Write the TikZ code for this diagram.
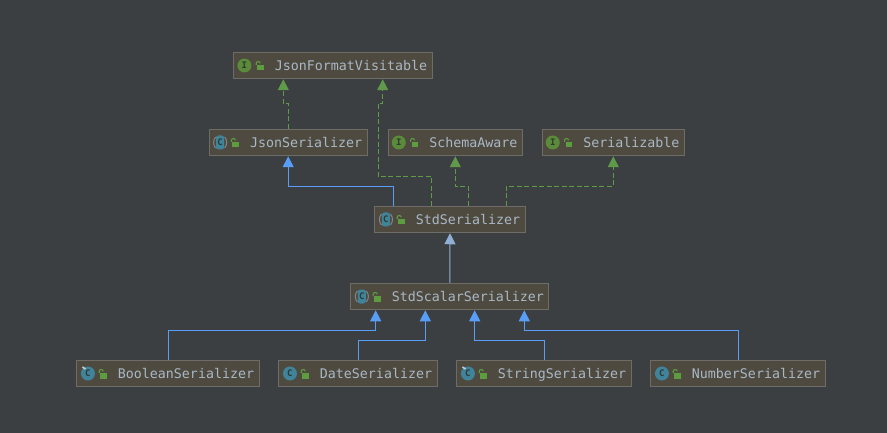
\documentclass[tikz,border=0pt]{standalone}
\usepackage{fontspec}
\setmonofont{DejaVu Sans Mono}
\usetikzlibrary{arrows.meta}
\definecolor{bgdark}{HTML}{3C3F41}
\definecolor{boxfill}{HTML}{4E4A3F}
\definecolor{boxline}{HTML}{6E6C66}
\definecolor{boxtext}{HTML}{A9B7C6}
\definecolor{implgreen}{HTML}{5F9A4A}
\definecolor{lockgreen}{HTML}{5E9C40}
\definecolor{extblue}{HTML}{589DF6}
\definecolor{classteal}{HTML}{40849C}
\definecolor{ifacegreen}{HTML}{5B8A3A}
\definecolor{iconink}{HTML}{2F3A33}
\tikzset{
  x=1pt,y=-1pt,
  umlbox/.style={draw=boxline,fill=boxfill,line width=1pt,text=boxtext,inner xsep=5pt,inner ysep=0pt,
    minimum height=26.5pt,text height=11pt,text depth=1pt,
    font=\ttfamily\fontsize{13.3}{15}\selectfont,execute at begin node={\hspace*{36pt}}},
  extendsline/.style={draw=extblue,line width=1pt,-{Triangle[width=11pt,length=11pt]}},
  implline/.style={draw=implgreen,line width=1pt,dash pattern=on 5pt off 2.5pt,-{Triangle[width=11pt,length=11pt,fill=implgreen]}},
  iconletter/.style={text=iconink,inner sep=0pt,font=\ttfamily\bfseries\fontsize{9}{9}\selectfont},
  lockmark/.pic={
    \fill[lockgreen] (23.8,-0.2) rectangle (30.3,5);
    \draw[lockgreen,line width=1.1pt] (22.8,-0.5) -- (22.8,-2.2) arc[start angle=180,end angle=0,x radius=2,y radius=-1.8];
  },
  ifacemark/.pic={
    \fill[ifacegreen] (11,0) circle[radius=7];
    \node[iconletter] at (11,0) {I};
  },
  classmark/.pic={
    \fill[classteal] (11.5,0) circle[radius=7];
    \node[iconletter] at (11.5,0) {C};
  },
  staticmark/.pic={
    \fill[classteal] (11.5,0) circle[radius=7];
    \node[iconletter] at (11.5,0) {C};
    \draw[boxtext!70!white,line width=1.6pt] (6,-6.5) -- (9,-4.5);
  },
  abstractmark/.pic={
    \draw[boxtext!60!bgdark,line width=1pt] (7.5,-5.5) arc[start angle=130,end angle=230,radius=-7.2];
    \draw[boxtext!60!bgdark,line width=1pt] (7,-5.5) to[bend right=40] (7,5.5);
    \draw[boxtext!60!bgdark,line width=1pt] (16,-5.5) to[bend left=40] (16,5.5);
    \fill[classteal,rounded corners=2.5pt] (7.5,-7) rectangle (15.5,7);
    \node[iconletter] at (11.5,0) {C};
  }
}
\begin{document}
\begin{tikzpicture}
  \fill[bgdark] (0,0) rectangle (887,433);
  \useasboundingbox (0,0) rectangle (887,433);
  \node[umlbox] (jsonVisitable) at (333,65.5) {JsonFormatVisitable};
  \node[umlbox] (jsonSer) at (288.2,142.5) {JsonSerializer};
  \node[umlbox] (schemaAware) at (455.3,142.5) {SchemaAware};
  \node[umlbox] (serializable) at (613.3,142.5) {Serializable};
  \node[umlbox] (stdSer) at (450,219.5) {StdSerializer};
  \node[umlbox] (stdScalar) at (449.9,296.5) {StdScalarSerializer};
  \node[umlbox] (boolSer) at (168,373.5) {BooleanSerializer};
  \node[umlbox] (dateSer) at (358,373.5) {DateSerializer};
  \node[umlbox] (stringSer) at (544,373.5) {StringSerializer};
  \node[umlbox] (numberSer) at (738,373.5) {NumberSerializer};
  % icons
  \foreach \n in {jsonVisitable,schemaAware,serializable} \pic at (\n.west) {ifacemark};
  \foreach \n in {jsonSer,stdSer,stdScalar} \pic at (\n.west) {abstractmark};
  \foreach \n in {boolSer,stringSer} \pic at (\n.west) {staticmark};
  \foreach \n in {dateSer,numberSer} \pic at (\n.west) {classmark};
  \foreach \n in {jsonVisitable,jsonSer,schemaAware,serializable,stdSer,stdScalar,boolSer,dateSer,stringSer,numberSer}
    \pic at (\n.west) {lockmark};
  % connectors
  \draw[implline] (jsonSer.north) -- ++(0,-25) -| ([xshift=-49.7]jsonVisitable.south);
  \draw[implline] ([xshift=-18.7]stdSer.north) -- ++(0,-29.5) -- ++(-53.3,0) -- ++(0,-72.5) -| ([xshift=49.7]jsonVisitable.south);
  \draw[extendsline] ([xshift=-56.7]stdSer.north) -- ++(0,-19.5) -| (jsonSer.south);
  \draw[implline] ([xshift=18.3]stdSer.north) -- ++(0,-19.5) -| (schemaAware.south);
  \draw[implline] ([xshift=56.3]stdSer.north) -- ++(0,-19.5) -| (serializable.south);
  \draw[extendsline,draw=boxtext!70!extblue] (stdScalar.north) -- (stdSer.south);
  \draw[extendsline] (boolSer.north) -- ++(0,-29.7) -| ([xshift=-74.2]stdScalar.south);
  \draw[extendsline] (dateSer.north) -- ++(0,-19.7) -| ([xshift=-24.6]stdScalar.south);
  \draw[extendsline] (stringSer.north) -- ++(0,-19.7) -| ([xshift=24.8]stdScalar.south);
  \draw[extendsline] (numberSer.north) -- ++(0,-29.7) -| ([xshift=74.4]stdScalar.south);
\end{tikzpicture}
\end{document}
